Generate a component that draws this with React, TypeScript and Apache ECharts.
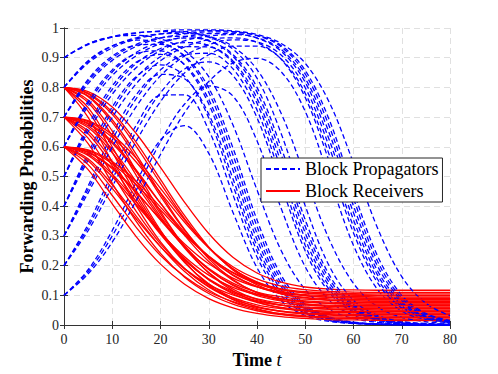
import React, { useEffect, useRef } from "react";
import * as echarts from "echarts";

const TIME = [0, 5, 10, 15, 20, 25, 30, 35, 40, 45, 50, 55, 60, 65, 70, 75, 80];

const PROP_A1 = [0.100, 0.186, 0.318, 0.481, 0.623, 0.671, 0.578, 0.380, 0.193, 0.082, 0.032, 0.012, 0.005, 0.002, 0.001, 0, 0];
const PROP_A2 = [0.200, 0.339, 0.512, 0.673, 0.773, 0.775, 0.656, 0.439, 0.229, 0.099, 0.039, 0.015, 0.006, 0.002, 0.001, 0, 0];
const PROP_A3 = [0.300, 0.468, 0.642, 0.776, 0.844, 0.829, 0.710, 0.493, 0.267, 0.119, 0.047, 0.018, 0.007, 0.003, 0.001, 0, 0];
const PROP_A4 = [0.400, 0.578, 0.734, 0.837, 0.876, 0.837, 0.697, 0.471, 0.249, 0.109, 0.043, 0.016, 0.006, 0.002, 0.001, 0, 0];
const PROP_A5 = [0.500, 0.672, 0.805, 0.885, 0.911, 0.877, 0.759, 0.546, 0.309, 0.141, 0.057, 0.022, 0.008, 0.003, 0.001, 0, 0];
const PROP_A6 = [0.600, 0.754, 0.859, 0.914, 0.923, 0.875, 0.744, 0.523, 0.288, 0.130, 0.052, 0.020, 0.007, 0.003, 0.001, 0, 0];
const PROP_A7 = [0.700, 0.827, 0.905, 0.942, 0.945, 0.906, 0.798, 0.597, 0.354, 0.168, 0.069, 0.027, 0.010, 0.004, 0.001, 0, 0];
const PROP_A8 = [0.800, 0.890, 0.940, 0.959, 0.951, 0.903, 0.783, 0.573, 0.332, 0.154, 0.063, 0.024, 0.009, 0.003, 0.001, 0, 0];
const PROP_A9 = [0.900, 0.947, 0.970, 0.975, 0.963, 0.924, 0.836, 0.674, 0.455, 0.251, 0.119, 0.052, 0.022, 0.009, 0.004, 0.001, 0];

const PROP_B1 = [0.100, 0.179, 0.300, 0.455, 0.617, 0.744, 0.805, 0.771, 0.620, 0.393, 0.196, 0.083, 0.032, 0.012, 0.004, 0.002, 0.001];
const PROP_B2 = [0.200, 0.329, 0.490, 0.653, 0.782, 0.862, 0.886, 0.840, 0.698, 0.471, 0.249, 0.109, 0.043, 0.016, 0.006, 0.002, 0.001];
const PROP_B3 = [0.300, 0.457, 0.623, 0.763, 0.859, 0.909, 0.915, 0.863, 0.724, 0.497, 0.268, 0.119, 0.047, 0.018, 0.007, 0.002, 0.001];
const PROP_B4 = [0.400, 0.567, 0.720, 0.833, 0.903, 0.937, 0.936, 0.889, 0.763, 0.548, 0.310, 0.142, 0.057, 0.022, 0.008, 0.003, 0.001];
const PROP_B5 = [0.500, 0.662, 0.793, 0.881, 0.931, 0.951, 0.941, 0.883, 0.747, 0.524, 0.289, 0.130, 0.052, 0.020, 0.007, 0.003, 0.001];
const PROP_B6 = [0.600, 0.747, 0.852, 0.918, 0.953, 0.966, 0.957, 0.911, 0.800, 0.598, 0.354, 0.168, 0.069, 0.027, 0.010, 0.004, 0.001];
const PROP_B7 = [0.700, 0.821, 0.899, 0.945, 0.967, 0.972, 0.957, 0.905, 0.784, 0.574, 0.332, 0.155, 0.063, 0.024, 0.009, 0.003, 0.001];
const PROP_B8 = [0.800, 0.887, 0.939, 0.967, 0.980, 0.982, 0.969, 0.929, 0.831, 0.645, 0.401, 0.198, 0.083, 0.032, 0.012, 0.005, 0.002];
const PROP_B9 = [0.900, 0.946, 0.971, 0.984, 0.988, 0.986, 0.972, 0.938, 0.860, 0.713, 0.500, 0.287, 0.140, 0.061, 0.026, 0.011, 0.004];

const PROP_C1 = [0.100, 0.172, 0.279, 0.420, 0.574, 0.715, 0.820, 0.882, 0.898, 0.853, 0.719, 0.495, 0.268, 0.119, 0.047, 0.018, 0.007];
const PROP_C2 = [0.200, 0.318, 0.466, 0.620, 0.752, 0.849, 0.910, 0.939, 0.939, 0.896, 0.780, 0.572, 0.331, 0.154, 0.063, 0.024, 0.009];
const PROP_C3 = [0.300, 0.445, 0.599, 0.736, 0.839, 0.906, 0.944, 0.960, 0.953, 0.909, 0.799, 0.598, 0.354, 0.168, 0.069, 0.027, 0.010];
const PROP_C4 = [0.400, 0.555, 0.699, 0.813, 0.890, 0.936, 0.961, 0.967, 0.951, 0.895, 0.766, 0.549, 0.310, 0.142, 0.057, 0.022, 0.008];
const PROP_C5 = [0.500, 0.651, 0.777, 0.867, 0.924, 0.957, 0.973, 0.978, 0.967, 0.928, 0.830, 0.645, 0.401, 0.198, 0.083, 0.032, 0.012];
const PROP_C6 = [0.600, 0.737, 0.840, 0.907, 0.948, 0.970, 0.981, 0.981, 0.966, 0.922, 0.817, 0.622, 0.378, 0.182, 0.076, 0.029, 0.011];
const PROP_C7 = [0.700, 0.813, 0.891, 0.938, 0.966, 0.980, 0.987, 0.986, 0.975, 0.941, 0.857, 0.690, 0.450, 0.232, 0.100, 0.039, 0.015];
const PROP_C8 = [0.800, 0.882, 0.933, 0.963, 0.980, 0.988, 0.991, 0.988, 0.974, 0.937, 0.845, 0.668, 0.426, 0.214, 0.091, 0.036, 0.013];
const PROP_C9 = [0.900, 0.944, 0.969, 0.983, 0.990, 0.994, 0.994, 0.990, 0.978, 0.948, 0.881, 0.749, 0.545, 0.326, 0.163, 0.073, 0.031];

const RECV_80 = [
  [0.8, 0.699, 0.547, 0.401, 0.280, 0.190, 0.128, 0.087, 0.062, 0.047, 0.039, 0.035, 0.032, 0.031, 0.030, 0.030, 0.030],
  [0.8, 0.720, 0.582, 0.439, 0.315, 0.220, 0.152, 0.109, 0.082, 0.067, 0.058, 0.054, 0.052, 0.051, 0.050, 0.050, 0.050],
  [0.8, 0.732, 0.600, 0.453, 0.319, 0.212, 0.135, 0.085, 0.055, 0.037, 0.028, 0.024, 0.022, 0.021, 0.020, 0.020, 0.020],
  [0.8, 0.749, 0.637, 0.503, 0.374, 0.266, 0.188, 0.136, 0.104, 0.087, 0.078, 0.073, 0.071, 0.070, 0.070, 0.070, 0.070],
  [0.8, 0.757, 0.653, 0.518, 0.382, 0.264, 0.175, 0.115, 0.078, 0.058, 0.048, 0.043, 0.041, 0.040, 0.040, 0.040, 0.040],
  [0.8, 0.769, 0.682, 0.562, 0.434, 0.319, 0.229, 0.167, 0.129, 0.108, 0.098, 0.093, 0.091, 0.090, 0.090, 0.090, 0.090],
  [0.8, 0.772, 0.691, 0.574, 0.443, 0.321, 0.223, 0.153, 0.108, 0.083, 0.070, 0.064, 0.061, 0.060, 0.060, 0.060, 0.060],
  [0.8, 0.778, 0.709, 0.601, 0.477, 0.358, 0.260, 0.189, 0.145, 0.120, 0.108, 0.103, 0.101, 0.100, 0.100, 0.100, 0.100],
  [0.8, 0.781, 0.717, 0.614, 0.490, 0.368, 0.263, 0.185, 0.135, 0.105, 0.091, 0.084, 0.081, 0.080, 0.080, 0.080, 0.080],
  [0.8, 0.786, 0.734, 0.644, 0.531, 0.413, 0.308, 0.228, 0.175, 0.144, 0.128, 0.121, 0.118, 0.117, 0.117, 0.117, 0.117],
];

const RECV_70 = [
  [0.7, 0.611, 0.477, 0.348, 0.241, 0.161, 0.106, 0.070, 0.048, 0.035, 0.028, 0.024, 0.022, 0.021, 0.020, 0.020, 0.020],
  [0.7, 0.629, 0.508, 0.382, 0.273, 0.189, 0.130, 0.092, 0.068, 0.055, 0.047, 0.043, 0.042, 0.041, 0.040, 0.040, 0.040],
  [0.7, 0.644, 0.536, 0.415, 0.305, 0.217, 0.155, 0.113, 0.088, 0.074, 0.067, 0.063, 0.061, 0.061, 0.060, 0.060, 0.060],
  [0.7, 0.653, 0.551, 0.427, 0.309, 0.210, 0.139, 0.091, 0.061, 0.045, 0.037, 0.033, 0.031, 0.030, 0.030, 0.030, 0.030],
  [0.7, 0.665, 0.580, 0.470, 0.359, 0.263, 0.190, 0.141, 0.111, 0.095, 0.087, 0.083, 0.081, 0.080, 0.080, 0.080, 0.080],
  [0.7, 0.671, 0.592, 0.482, 0.365, 0.259, 0.177, 0.121, 0.086, 0.067, 0.057, 0.053, 0.051, 0.050, 0.050, 0.050, 0.050],
  [0.7, 0.677, 0.612, 0.516, 0.410, 0.312, 0.232, 0.175, 0.139, 0.119, 0.108, 0.103, 0.101, 0.100, 0.100, 0.100, 0.100],
  [0.7, 0.680, 0.618, 0.521, 0.410, 0.302, 0.214, 0.150, 0.110, 0.088, 0.077, 0.073, 0.071, 0.070, 0.070, 0.070, 0.070],
  [0.7, 0.685, 0.632, 0.548, 0.446, 0.346, 0.260, 0.196, 0.155, 0.131, 0.119, 0.113, 0.111, 0.110, 0.110, 0.110, 0.110],
  [0.7, 0.688, 0.641, 0.561, 0.460, 0.354, 0.261, 0.189, 0.142, 0.114, 0.100, 0.094, 0.091, 0.090, 0.090, 0.090, 0.090],
];

const RECV_60 = [
  [0.6, 0.523, 0.408, 0.297, 0.205, 0.137, 0.089, 0.058, 0.039, 0.028, 0.022, 0.018, 0.017, 0.016, 0.015, 0.015, 0.015],
  [0.6, 0.540, 0.436, 0.328, 0.234, 0.163, 0.112, 0.079, 0.059, 0.047, 0.041, 0.038, 0.036, 0.036, 0.035, 0.035, 0.035],
  [0.6, 0.553, 0.460, 0.357, 0.264, 0.189, 0.136, 0.101, 0.079, 0.067, 0.061, 0.058, 0.056, 0.056, 0.055, 0.055, 0.055],
  [0.6, 0.560, 0.472, 0.366, 0.264, 0.180, 0.118, 0.077, 0.052, 0.038, 0.031, 0.028, 0.026, 0.025, 0.025, 0.025, 0.025],
  [0.6, 0.571, 0.499, 0.405, 0.311, 0.230, 0.168, 0.127, 0.102, 0.088, 0.081, 0.077, 0.076, 0.075, 0.075, 0.075, 0.075],
  [0.6, 0.576, 0.508, 0.414, 0.314, 0.224, 0.154, 0.105, 0.076, 0.059, 0.051, 0.047, 0.046, 0.045, 0.045, 0.045, 0.045],
  [0.6, 0.581, 0.526, 0.445, 0.356, 0.273, 0.206, 0.158, 0.128, 0.111, 0.102, 0.098, 0.096, 0.095, 0.095, 0.095, 0.095],
  [0.6, 0.583, 0.530, 0.448, 0.353, 0.262, 0.187, 0.133, 0.099, 0.081, 0.071, 0.067, 0.066, 0.065, 0.065, 0.065, 0.065],
  [0.6, 0.587, 0.543, 0.472, 0.387, 0.303, 0.231, 0.177, 0.143, 0.122, 0.112, 0.108, 0.106, 0.105, 0.105, 0.105, 0.105],
  [0.6, 0.590, 0.550, 0.483, 0.397, 0.308, 0.229, 0.169, 0.129, 0.105, 0.093, 0.088, 0.086, 0.085, 0.085, 0.085, 0.085],
];

const PROPAGATORS = [
  PROP_A1, PROP_A2, PROP_A3, PROP_A4, PROP_A5, PROP_A6, PROP_A7, PROP_A8, PROP_A9,
  PROP_B1, PROP_B2, PROP_B3, PROP_B4, PROP_B5, PROP_B6, PROP_B7, PROP_B8, PROP_B9,
  PROP_C1, PROP_C2, PROP_C3, PROP_C4, PROP_C5, PROP_C6, PROP_C7, PROP_C8, PROP_C9,
];
const RECEIVERS = [...RECV_80, ...RECV_70, ...RECV_60];

const PROP_NAME = "Block Propagators";
const RECV_NAME = "Block Receivers";
const SERIF = "'Liberation Serif', 'Times New Roman', serif";

export default function App() {
  const ref = useRef<HTMLDivElement>(null);

  useEffect(() => {
    if (!ref.current) return;
    const chart = echarts.init(ref.current, null, { renderer: "svg" });

    const makeSeries = (vals: number[], kind: "p" | "r", i: number) => ({
      type: "line",
      name: kind === "p" ? PROP_NAME : RECV_NAME,
      data: TIME.map((t, j) => [t, vals[j]]),
      symbol: "none",
      showSymbol: false,
      smooth: 0.35,
      clip: true,
      silent: true,
      z: 2 + i,
      lineStyle:
        kind === "p"
          ? { color: "#0000ff", width: 1.3, type: [5, 3] }
          : { color: "#ff0000", width: 1.3, type: "solid" },
      itemStyle: { color: kind === "p" ? "#0000ff" : "#ff0000" },
    });

    const series: any[] = [];
    const n = Math.max(PROPAGATORS.length, RECEIVERS.length);
    let k = 0;
    for (let i = 0; i < n; i++) {
      if (PROPAGATORS[i]) series.push(makeSeries(PROPAGATORS[i], "p", k++));
      if (RECEIVERS[i]) series.push(makeSeries(RECEIVERS[i], "r", k++));
    }

    const axisLineStyle = { color: "#333333", width: 1 };
    const gridLine = { show: true, lineStyle: { color: "#e0e0e0", width: 1, type: [6, 4] } };

    chart.setOption({
      animation: false,
      backgroundColor: "#ffffff",
      grid: { left: 64, right: 48, top: 28, bottom: 42, containLabel: false },
      legend: {
        data: [PROP_NAME, RECV_NAME],
        orient: "vertical",
        left: 261,
        top: 158,
        itemWidth: 34,
        itemHeight: 18,
        itemGap: 4,
        padding: [2, 4, 2, 4],
        borderColor: "#262626",
        borderWidth: 1,
        borderRadius: 0,
        backgroundColor: "#ffffff",
        selectedMode: false,
        itemStyle: { opacity: 0 },
        textStyle: { fontFamily: SERIF, fontSize: 18, color: "#000000", lineHeight: 18 },
        z: 100,
      },
      xAxis: [
        {
          type: "value",
          min: 0,
          max: 80,
          interval: 10,
          position: "bottom",
          name: "{b|Time }{i|t}",
          nameLocation: "middle",
          nameGap: 26,
          nameTextStyle: {
            rich: {
              b: { fontFamily: SERIF, fontWeight: "bold", fontSize: 18, color: "#000" },
              i: { fontFamily: SERIF, fontStyle: "italic", fontSize: 18, color: "#000" },
            },
          },
          axisLine: { show: true, lineStyle: axisLineStyle },
          axisTick: { show: true, inside: true, length: 4, lineStyle: axisLineStyle },
          axisLabel: { fontFamily: SERIF, fontSize: 14, color: "#262626", margin: 7 },
          splitLine: gridLine,
        },
        {
          type: "value",
          min: 0,
          max: 80,
          interval: 10,
          position: "top",
          axisLine: { show: true, lineStyle: axisLineStyle },
          axisTick: { show: true, inside: true, length: 4, lineStyle: axisLineStyle },
          axisLabel: { show: false },
          splitLine: { show: false },
        },
      ],
      yAxis: [
        {
          type: "value",
          min: 0,
          max: 1,
          interval: 0.1,
          position: "left",
          name: "Forwarding Probabilities",
          nameLocation: "middle",
          nameRotate: 90,
          nameGap: 28,
          nameMoveOverlap: false,
          nameTextStyle: { fontFamily: SERIF, fontWeight: "bold", fontSize: 18, color: "#000" },
          axisLine: { show: true, lineStyle: axisLineStyle },
          axisTick: { show: true, inside: true, length: 4, lineStyle: axisLineStyle },
          axisLabel: { fontFamily: SERIF, fontSize: 14, color: "#262626", margin: 5 },
          splitLine: gridLine,
        },
        {
          type: "value",
          min: 0,
          max: 1,
          interval: 0.1,
          position: "right",
          axisLine: { show: true, lineStyle: axisLineStyle },
          axisTick: { show: true, inside: true, length: 4, lineStyle: axisLineStyle },
          axisLabel: { show: false },
          splitLine: { show: false },
        },
      ],
      series,
    });

    return () => chart.dispose();
  }, []);

  return (
    <div
      ref={ref}
      style={{ position: "absolute", left: 0, top: 0, width: 498, height: 374 }}
    />
  );
}
